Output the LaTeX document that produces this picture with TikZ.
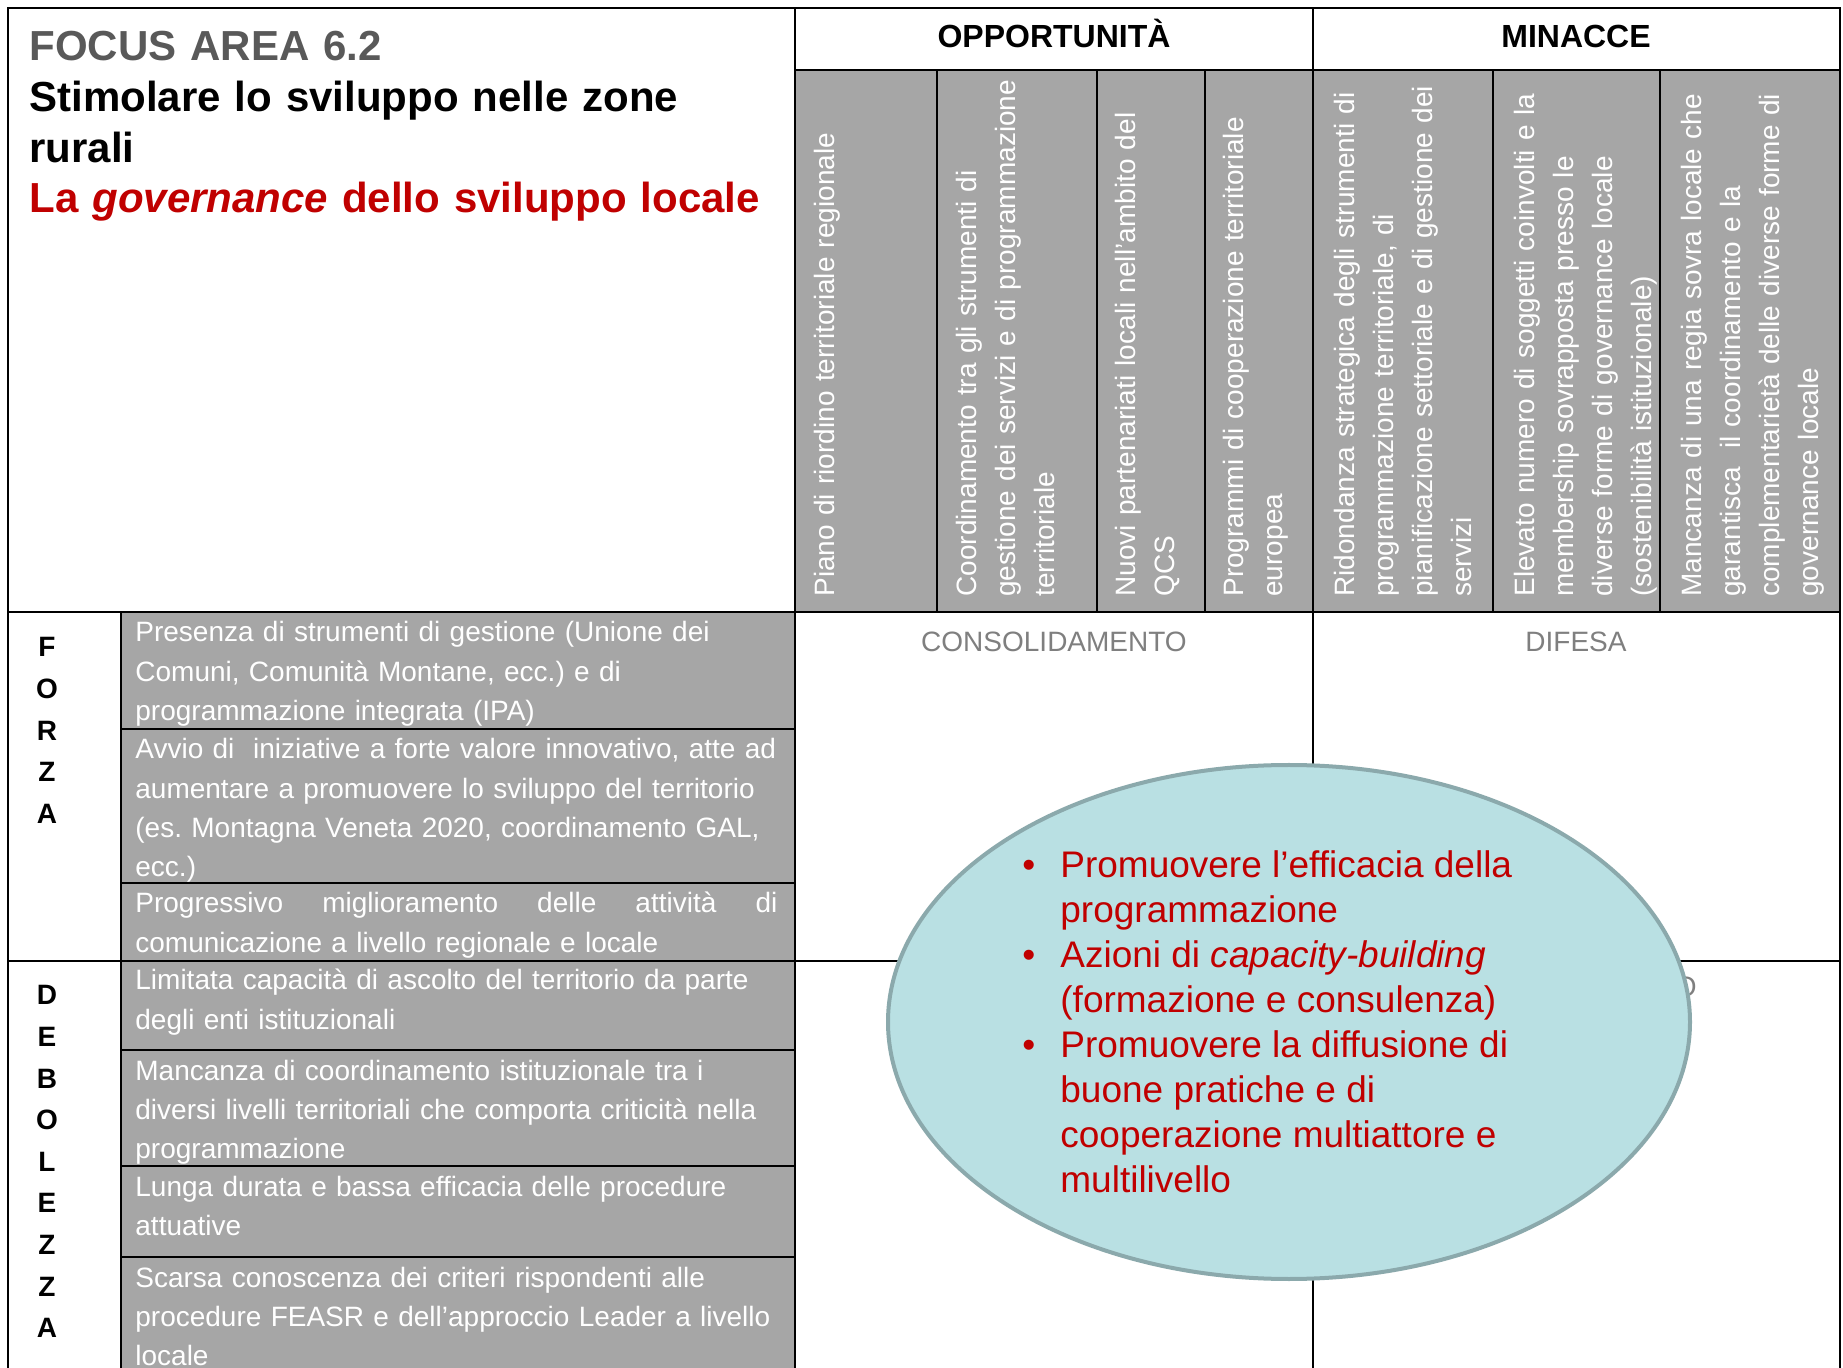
\documentclass[tikz,border=0pt]{standalone}
\usepackage{fontspec}
\setmainfont{Liberation Sans}
\usetikzlibrary{shapes.geometric}
\definecolor{cellgray}{HTML}{A6A6A6}
\definecolor{titlegray}{HTML}{595959}
\definecolor{quadgray}{HTML}{7F7F7F}
\definecolor{darkred}{HTML}{C00000}
\definecolor{ellfill}{HTML}{B9E0E3}
\definecolor{ellline}{HTML}{8BA9AC}
\newcommand\fsbody{\fontsize{14}{19.6}\selectfont}
\newcommand\fstitle{\fontsize{21}{25.3}\selectfont}
\newcommand\fshead{\fontsize{16}{19}\selectfont}
\newcommand\fsell{\fontsize{18.5}{22.45}\selectfont}
\newcommand\fsletter{\fontsize{14}{20.8}\selectfont}
\frenchspacing
\begin{document}
\begin{tikzpicture}[x=0.5pt,y=-0.5pt,
  gridline/.style={line width=1.25pt,draw=black,line cap=rect},
  coltext/.style={rotate=90,anchor=base west,inner sep=0pt,text width=275pt,align=left,text=white,font=\fsbody},
  rowtext/.style={anchor=base west,inner sep=0pt,text width=335pt,align=left,text=white,font=\fsbody},
  headtext/.style={anchor=base,inner sep=0pt,font=\fshead\bfseries},
  quadtext/.style={anchor=base,inner sep=0pt,font=\fsbody,text=quadgray},
  lettertext/.style={anchor=base,inner sep=0pt,text width=20pt,align=center,font=\fsletter\bfseries},
]
\useasboundingbox (0,0) rectangle (1843,1368);
\fill[white] (0,0) rectangle (1843,1368);
\fill[cellgray] (795,70) rectangle (1840,612);
\fill[cellgray] (121,612) rectangle (795,1368);
% grid
\draw[gridline] (8,1370) -- (8,8) -- (1840,8) -- (1840,1370);
\draw[gridline] (795,8) -- (795,1370);
\draw[gridline] (1313,8) -- (1313,1370);
\draw[gridline] (795,70) -- (1840,70);
\draw[gridline] (8,612) -- (1840,612);
\draw[gridline] (8,961) -- (1840,961);
\draw[gridline] (121,612) -- (121,1370);
\foreach \cx in {937,1097,1205,1493,1660} \draw[gridline] (\cx,70) -- (\cx,612);
\foreach \ry in {729,883,1050,1166,1257} \draw[gridline] (121,\ry) -- (795,\ry);

% title
\node[anchor=base west,inner sep=0pt,text width=400pt,align=left,font=\fstitle\bfseries] (title) at (29,61)
 {{\color{titlegray}FOCUS AREA 6.2}\\Stimolare lo sviluppo nelle zone\\rurali\\{\color{darkred}La \textit{governance} dello sviluppo locale}};

% headers
\node[headtext] (opp) at (1054,48) {OPPORTUNITÀ};
\node[headtext] (min) at (1576,48) {MINACCE};

% column texts
\node[coltext] (o1) at (834,597) {Piano di riordino territoriale regionale};
\node[coltext] (o2) at (976,597) {Coordinamento tra gli strumenti di\\gestione dei servizi e di programmazione\\territoriale};
\node[coltext] (o3) at (1135,597) {Nuovi partenariati locali nell’ambito del\\QCS};
\node[coltext] (o4) at (1243,597) {Programmi di cooperazione territoriale\\europea};
\node[coltext] (m1) at (1354,597) {Ridondanza strategica degli strumenti di\\programmazione territoriale, di\\pianificazione settoriale e di gestione dei\\servizi};
\node[coltext] (m2) at (1534,597) {Elevato numero di soggetti coinvolti e la\\membership sovrapposta presso le\\diverse forme di governance locale\\(sostenibilità istituzionale)};
\node[coltext] (m3) at (1701,597) {Mancanza di una regia sovra locale che\\garantisca~ il coordinamento e la\\complementarietà delle diverse forme di\\governance locale};

% side letters
\node[lettertext] (forza) at (47,657) {F\\O\\R\\Z\\A};
\node[lettertext] (debo) at (47,1005) {D\\E\\B\\O\\L\\E\\Z\\Z\\A};

% row texts
\node[rowtext] (f1) at (135,642) {Presenza di strumenti di gestione (Unione dei\\Comuni, Comunità Montane, ecc.) e di\\programmazione integrata (IPA)};
\node[rowtext] (f2) at (135,759) {Avvio di~ iniziative a forte valore innovativo, atte ad\\aumentare a promuovere lo sviluppo del territorio\\(es. Montagna Veneta 2020, coordinamento GAL,\\ecc.)};
\node[rowtext] (f3) at (135,913) {\makebox[321pt][s]{Progressivo\hfill miglioramento\hfill delle\hfill attività\hfill di}\\comunicazione a livello regionale e locale};
\node[rowtext] (d1) at (135,990) {Limitata capacità di ascolto del territorio da parte\\degli enti istituzionali};
\node[rowtext] (d2) at (135,1080) {Mancanza di coordinamento istituzionale tra i\\diversi livelli territoriali che comporta criticità nella\\programmazione};
\node[rowtext] (d3) at (135,1196) {Lunga durata e bassa efficacia delle procedure\\attuative};
\node[rowtext] (d4) at (135,1287) {Scarsa conoscenza dei criteri rispondenti alle\\procedure FEASR e dell’approccio Leader a livello\\locale};

% quadrant labels
\node[quadtext] (cons) at (1054,652) {CONSOLIDAMENTO};
\node[quadtext] (dif) at (1576,652) {DIFESA};
\node[quadtext,anchor=base east] (q4) at (1697,997) {O};

% ellipse
\node[ellipse,draw=ellline,fill=ellfill,line width=2pt,minimum width=401pt,minimum height=257pt,inner sep=0pt] (ell) at (1289,1022) {};
\node[anchor=base west,inner sep=0pt,text=darkred,font=\fsell] (elltext) at (1022,878) {%
\begin{tabular}[t]{@{}l@{}l@{}}
\makebox[19pt][l]{•} & Promuovere l’efficacia della\\
 & programmazione\\
\makebox[19pt][l]{•} & Azioni di \textit{capacity-building}\\
 & (formazione e consulenza)\\
\makebox[19pt][l]{•} & Promuovere la diffusione di\\
 & buone pratiche e di\\
 & cooperazione multiattore e\\
 & multilivello
\end{tabular}};
\end{tikzpicture}
\end{document}
